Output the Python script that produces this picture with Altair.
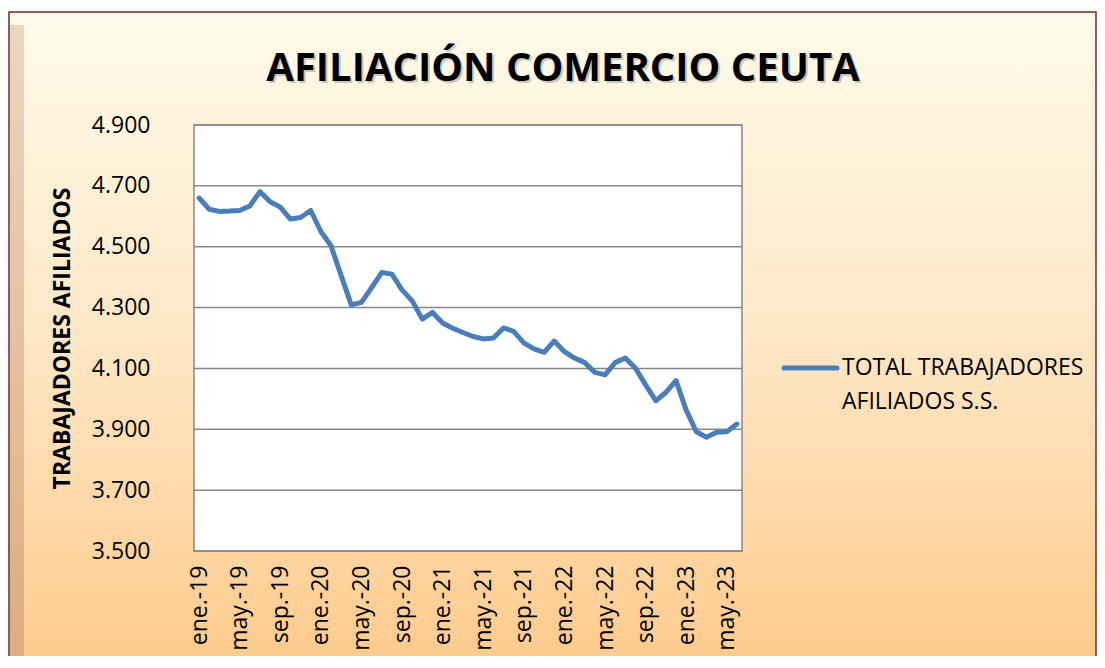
import altair as alt
import pandas as pd

# ---- data ----
MONTH_ABBR = ["ene.", "feb.", "mar.", "abr.", "may.", "jun.", "jul.", "ago.", "sep.", "oct.", "nov.", "dic."]
YEARS = ["19", "20", "21", "22", "23"]
N_MONTHS = 54  # ene.-19 .. jun.-23
months = [f"{m}-{y}" for y in YEARS for m in MONTH_ABBR][:N_MONTHS]

afiliados = [
    4660, 4623, 4616, 4617, 4619, 4634, 4681, 4648, 4630, 4591, 4596, 4619,
    4550, 4503, 4405, 4309, 4317, 4365, 4415, 4410, 4358, 4322, 4262, 4284,
    4249, 4232, 4218, 4205, 4197, 4200, 4233, 4222, 4184, 4164, 4153, 4190,
    4155, 4134, 4119, 4087, 4079, 4119, 4134, 4101, 4046, 3994, 4021, 4060,
    3963, 3892, 3874, 3890, 3892, 3917,
]
x_tick_labels = months[::4]
y_ticks = [3500, 3700, 3900, 4100, 4300, 4500, 4700, 4900]
series_name = ["TOTAL TRABAJADORES", "AFILIADOS S.S."]
title_text = "AFILIACIÓN COMERCIO CEUTA"
y_title = "TRABAJADORES AFILIADOS"

df = pd.DataFrame({"mes": months, "valor": afiliados})
grid_df = pd.DataFrame({"valor": y_ticks})
one = pd.DataFrame({"a": [0]})

W, H = 548, 426
FONT = "Open Sans"

x_scale = alt.Scale(domain=months, type="point", padding=0.5)
y_scale = alt.Scale(domain=[3500, 4900], nice=False, zero=False)

y_axis = alt.Axis(
    values=y_ticks,
    labelExpr="replace(format(datum.value, ',.0f'), ',', '.')",
    grid=False, ticks=False, domain=False, labelFontSize=23,
    labelFont=FONT, labelColor="black", labelPadding=44,
    title=y_title, titleFontSize=23, titleFont=FONT,
    titleFontWeight="bold", titleColor="black", titleAngle=270,
    titleX=-132, titleY=H / 2, titleAlign="center",
    titleBaseline="middle", zindex=1,
)
x_axis = alt.Axis(
    values=x_tick_labels, labelAngle=270, labelFontSize=23, labelFont=FONT,
    labelColor="black", labelPadding=14, ticks=False, domain=False,
    grid=False, title=None, zindex=1,
)

bg_grad = alt.Gradient(
    gradient="linear",
    stops=[
        alt.GradientStop(color="#FFFBEA", offset=0),
        alt.GradientStop(color="#FEE7C6", offset=0.5),
        alt.GradientStop(color="#FFCB8D", offset=1),
    ],
    x1=0, x2=0, y1=0, y2=1,
)
bevel_grad = alt.Gradient(
    gradient="linear",
    stops=[
        alt.GradientStop(color="#EBD6C0", offset=0),
        alt.GradientStop(color="#DDAC80", offset=1),
    ],
    x1=0, x2=0, y1=0, y2=1,
)

background = alt.Chart(one).mark_rect(
    fill=bg_grad, stroke="#6B2A2A", strokeWidth=1.5
).encode(
    x=alt.value(-185), x2=alt.value(W + 354),
    y=alt.value(-113), y2=alt.value(H + 110),
)
bevel = alt.Chart(one).mark_rect(fill=bevel_grad).encode(
    x=alt.value(-184), x2=alt.value(-170),
    y=alt.value(-100), y2=alt.value(H + 110),
)
plot_bg = alt.Chart(one).mark_rect(
    fill="white", stroke="#878787", strokeWidth=1.5
).encode(
    x=alt.value(0), x2=alt.value(W), y=alt.value(0), y2=alt.value(H)
)

title_shadow = alt.Chart(one).mark_text(
    text=title_text, font=FONT, fontSize=40, fontWeight="bold",
    color="#6E6E6E", opacity=0.35, align="center", baseline="alphabetic",
    dx=2, dy=2,
).encode(x=alt.value(369), y=alt.value(-44))
title_mark = alt.Chart(one).mark_text(
    text=title_text, font=FONT, fontSize=40, fontWeight="bold",
    color="black", align="center", baseline="alphabetic",
).encode(x=alt.value(369), y=alt.value(-44))

grid = alt.Chart(grid_df).mark_rule(color="#878787", strokeWidth=1.5).encode(
    y=alt.Y("valor:Q", scale=y_scale, axis=y_axis)
)

line = alt.Chart(df).mark_line(
    color="#4A7EBB", strokeWidth=5, strokeJoin="round", strokeCap="round"
).encode(
    x=alt.X("mes:N", scale=x_scale, sort=months, axis=x_axis),
    y=alt.Y("valor:Q", scale=y_scale, axis=y_axis),
)

legend_rule = alt.Chart(one).mark_rule(
    color="#4A7EBB", strokeWidth=5, strokeCap="round"
).encode(x=alt.value(590), x2=alt.value(643), y=alt.value(243))

legend_text = alt.Chart(one).mark_text(
    text=series_name, align="left", baseline="middle", fontSize=23,
    font=FONT, color="black", lineHeight=34,
).encode(x=alt.value(648), y=alt.value(243))

chart = alt.layer(
    background, bevel, plot_bg, title_shadow, title_mark, grid, line,
    legend_rule, legend_text
).properties(
    width=W, height=H,
    autosize=alt.AutoSizeParams(type="none"),
    padding={"left": 186, "top": 117, "right": 355, "bottom": 105},
).configure_view(stroke=None)

chart.save("out.html", embed_options={"renderer": "svg", "actions": False})
